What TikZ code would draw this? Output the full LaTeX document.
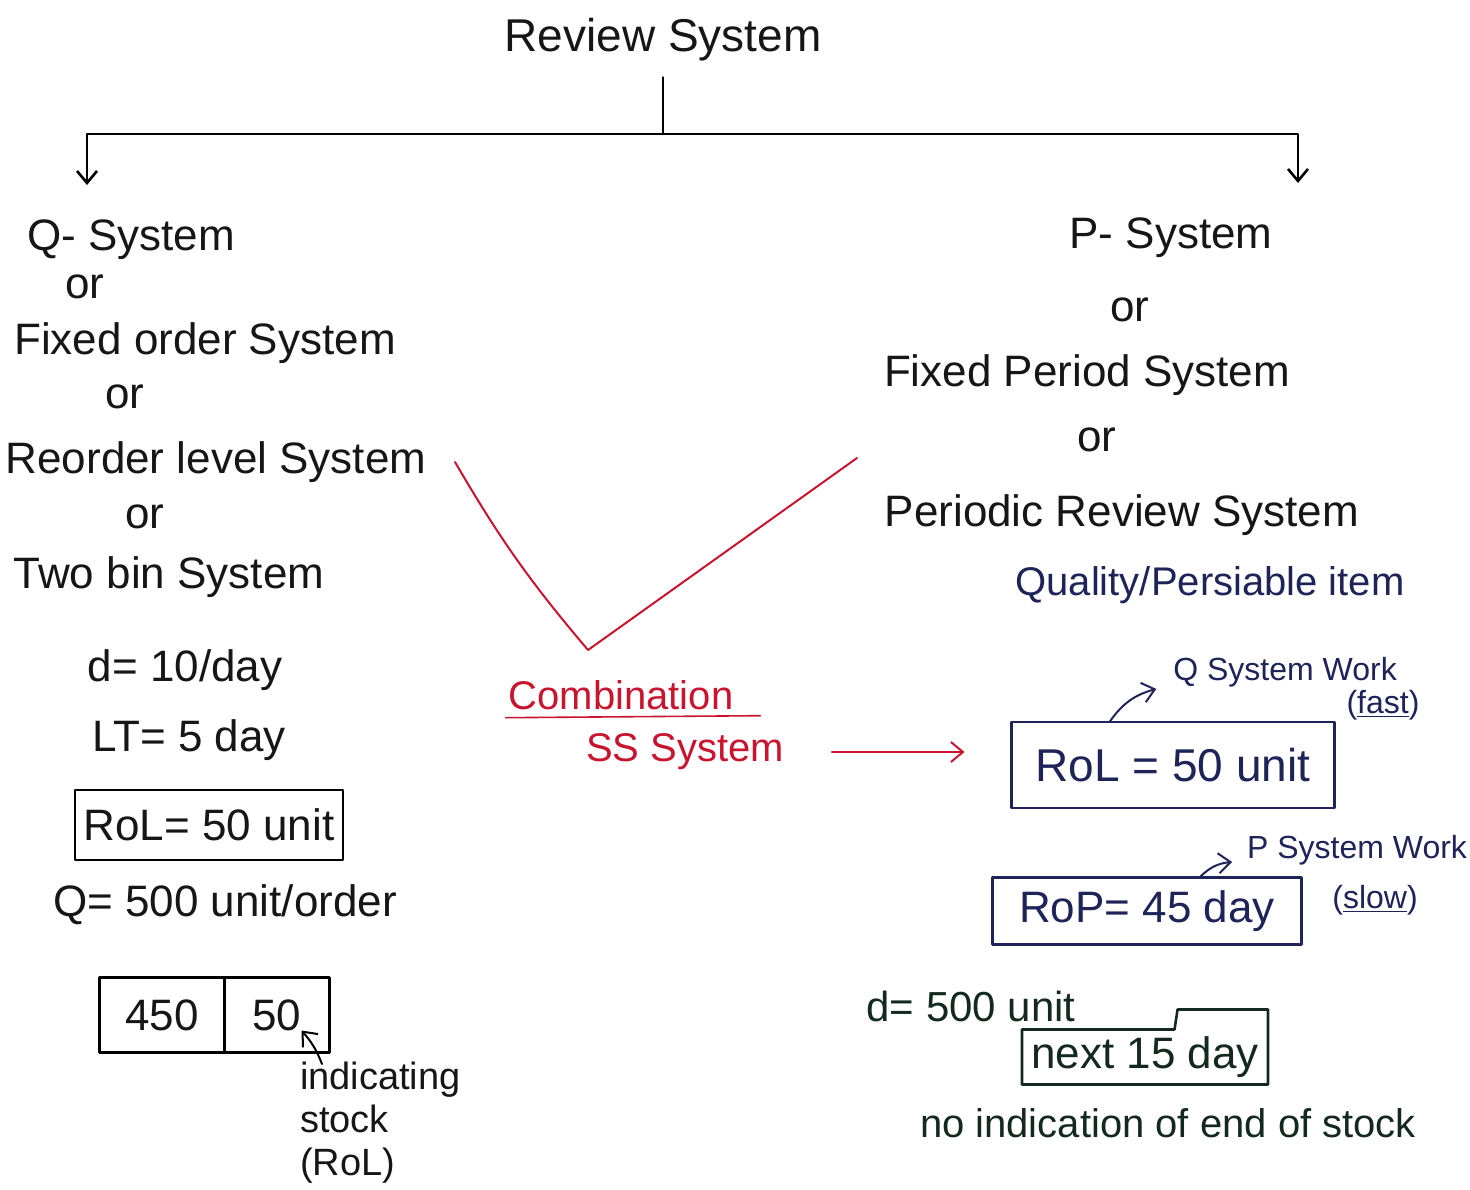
\documentclass[tikz,border=0pt]{standalone}
\usepackage{fontspec}
\setmainfont{Liberation Sans}
\usepackage{xcolor}
\usepackage{tikz}
\usetikzlibrary{positioning,calc,arrows.meta}
\definecolor{inkblack}{HTML}{161616}
\definecolor{inknavy}{HTML}{1E2358}
\definecolor{inkgreen}{HTML}{14291E}
\definecolor{inkred}{HTML}{C8142F}
\begin{document}
\begin{tikzpicture}[
    x=0.5pt, y=-0.5pt,
    every node/.style={inner sep=0pt, outer sep=0pt, text=inkblack},
    big/.style={font=\fontsize{22}{26}\selectfont},
    mid/.style={font=\fontsize{20}{24}\selectfont},
    small/.style={font=\fontsize{16}{20}\selectfont},
    pen/.style={line width=1.3pt, line cap=round, line join=round},
    tip/.style={pen, -{Straight Barb[length=6pt,width=10pt]}},
    valbox/.style={draw, pen}
]
\useasboundingbox (0,0) rectangle (1470,1189);

\node[big, font=\fontsize{23}{27}\selectfont] (review) at (663,40) {Review System};
\coordinate (split) at (663,134);
\coordinate (qhead) at (87,185);
\coordinate (phead) at (1298,183);

\node[big] (qsys) at (131,240) {Q- System};
\node[big] (qor1) at (85,287) {or};
\node[big] (fixord) at (205,343) {Fixed order System};
\node[big] (qor2) at (125,397) {or};
\node[big] (reord) at (216,462) {Reorder level System};
\node[big] (qor3) at (145,517) {or};
\node[big] (twobin) at (169,577) {Two bin System};

\node[big] (dq) at (185,670) {d= 10/day};
\node[big] (lt) at (189,740) {LT= 5 day};
\node[big, valbox, minimum width=134pt, minimum height=35pt] (rolL) at (209,825) {RoL= 50 unit};
\node[big] (qord) at (225,905) {Q= 500 unit/order};
\node[big, valbox, minimum width=62.5pt, minimum height=37.5pt] (bin1) at (162,1015) {450};
\node[big, valbox, minimum width=52.5pt, minimum height=37.5pt, right=0pt of bin1] (bin2) {50};
\node[font=\fontsize{19}{21.5}\selectfont, align=left, anchor=north west] (indic) at (300,1062) {indicating\\stock\\(RoL)};

\coordinate (vleft) at (455,462);
\coordinate (vtip) at (588,650);
\coordinate (vright) at (857,458);
\node[mid, text=inkred] (comb) at (621,695) {Combination};
\node[mid, text=inkred] (ss) at (685,752) {SS System};

\node[big] (psys) at (1171,238) {P- System};
\node[big] (por1) at (1130,310) {or};
\node[big] (fixper) at (1087,375) {Fixed Period System};
\node[big] (por2) at (1097,440) {or};
\node[big] (perrev) at (1122,515) {Periodic Review System};
\node[mid, text=inknavy] (perish) at (1210,585) {Quality/Persiable item};

\node[small, text=inknavy] (qwork) at (1285,672) {Q System Work};
\node[small, text=inknavy] (fast) at (1383,705) {(\underline{fast})};
\node[big, font=\fontsize{23}{27}\selectfont, valbox, draw=inknavy, text=inknavy, minimum width=161.5pt, minimum height=43pt] (rolR) at (1173,765) {RoL = 50 unit};
\node[small, text=inknavy] (pwork) at (1357,850) {P System Work};
\node[small, text=inknavy] (slow) at (1375,900) {(\underline{slow})};
\node[big, valbox, draw=inknavy, text=inknavy, minimum width=154.5pt, minimum height=33.5pt] (rop) at (1147,911) {RoP= 45 day};

\node[big, font=\fontsize{21}{25}\selectfont, text=inkgreen] (dp) at (971,1006) {d= 500 unit};
\node[big, text=inkgreen, minimum width=123pt, minimum height=27.5pt] (nextbox) at (1145,1057) {next 15 day};
\node[mid, text=inkgreen] (noind) at (1168,1123) {no indication of end of stock};

\draw[pen, shorten <=8pt] (review.south) -- (split);
\draw[tip] (split) -| (qhead);
\draw[tip] (split) -| (phead);

\draw[pen, inkred, line width=1pt] (vleft) to[bend right=5] (vtip) -- (vright);
\draw[pen, inkred, line width=0.8pt] ($(comb.south west)+(-3,8)$) -- ($(comb.south east)+(27,6)$);
\draw[tip, inkred, line width=1pt, shorten <=24pt, shorten >=23.5pt] (ss.east) -- (ss.east -| rolR.west);

\draw[tip, inknavy, line width=1pt] ($(rolR.north west)+(98,0)$) to[bend left=20] ($(qwork.south west)+(-17,2)$);
\draw[tip, inknavy, line width=1pt] ($(rop.north west)+(207,0)$) to[bend left=20] ($(pwork.south west)+(-15,-3)$);
\draw[tip, line width=1pt] ($(indic.north west)+(22,2)$) to[bend right=10] ($(bin2.south east)+(-28,-22)$);

\draw[pen, inkgreen] (nextbox.south west) -- (nextbox.north west) -- ($(nextbox.north west)!0.62!(nextbox.north east)$) -- ++(3,-20) -| (nextbox.south east) -- cycle;
\end{tikzpicture}
\end{document}
